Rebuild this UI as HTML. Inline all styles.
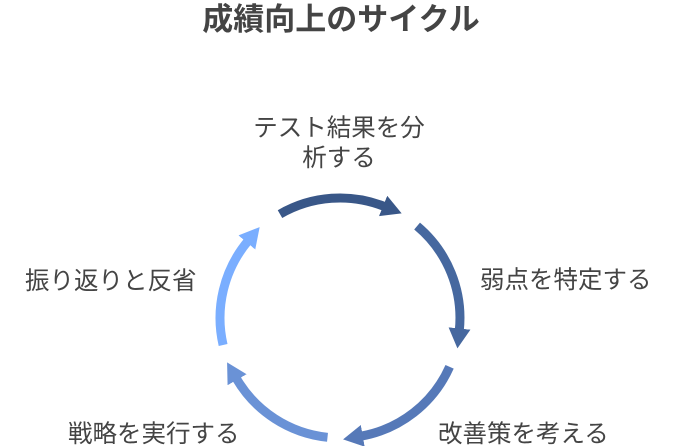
<!DOCTYPE html>
<html><head><meta charset="utf-8"><style>
html,body{margin:0;padding:0;background:#fff;}
body{width:683px;height:446px;overflow:hidden;position:relative;}
svg{position:absolute;left:0;top:0;}
text{font-family:"Liberation Sans","Noto Sans CJK JP",sans-serif;fill:#444;}
</style></head><body>
<svg width="683" height="446" viewBox="0 0 683 446">
<defs>
<marker id="m1" markerUnits="userSpaceOnUse" markerWidth="24" markerHeight="24" refX="2" refY="11" orient="auto"><path d="M0,0 L20,11 L0,22 Z" fill="#395788"/></marker>
<marker id="m2" markerUnits="userSpaceOnUse" markerWidth="24" markerHeight="24" refX="2" refY="11" orient="auto"><path d="M0,0 L20,11 L0,22 Z" fill="#46689f"/></marker>
<marker id="m3" markerUnits="userSpaceOnUse" markerWidth="24" markerHeight="24" refX="2" refY="11" orient="auto"><path d="M0,0 L20,11 L0,22 Z" fill="#5679b8"/></marker>
<marker id="m4" markerUnits="userSpaceOnUse" markerWidth="24" markerHeight="24" refX="2" refY="11" orient="auto"><path d="M0,0 L20,11 L0,22 Z" fill="#6a92d6"/></marker>
<marker id="m5" markerUnits="userSpaceOnUse" markerWidth="24" markerHeight="24" refX="2" refY="11" orient="auto"><path d="M0,0 L20,11 L0,22 Z" fill="#7aaeff"/></marker>
</defs>
<g fill="none" stroke-width="9">
<path d="M280,214.1 A120,120 0 0 1 384.95,206.7" stroke="#395788" marker-end="url(#m1)"/>
<path d="M417.1,226.1 A120,120 0 0 1 459.3,330.5" stroke="#46689f" marker-end="url(#m2)"/>
<path d="M449.6,366.8 A120,120 0 0 1 360.8,436.2" stroke="#5679b8" marker-end="url(#m3)"/>
<path d="M327.5,437.3 A120,120 0 0 1 236.1,378" stroke="#6a92d6" marker-end="url(#m4)"/>
<path d="M223.1,345 A120,120 0 0 1 248.1,240.9" stroke="#7aaeff" marker-end="url(#m5)"/>
</g>
<text x="341" y="30" font-size="31" font-weight="bold" text-anchor="middle">成績向上のサイクル</text>
<text x="339" y="136" font-size="24.5" text-anchor="middle">テスト結果を分</text>
<text x="339" y="166" font-size="24.5" text-anchor="middle">析する</text>
<text x="480" y="288" font-size="24.5">弱点を特定する</text>
<text x="438" y="442" font-size="24.5">改善策を考える</text>
<text x="68" y="442" font-size="24.5">戦略を実行する</text>
<text x="25" y="289" font-size="24.5">振り返りと反省</text>
</svg>
</body></html>
